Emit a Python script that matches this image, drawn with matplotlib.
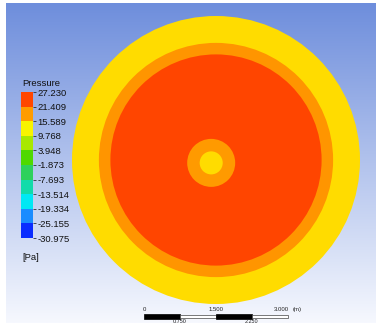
import numpy as np
import matplotlib
matplotlib.use("Agg")
import matplotlib.pyplot as plt
from matplotlib.patches import Circle, Rectangle
from matplotlib.colors import ListedColormap, BoundaryNorm, to_rgb

plt.rcParams['font.family'] = ['Liberation Sans', 'DejaVu Sans']

# legend levels (Pa)
levels = [-30.975, -25.155, -19.334, -13.514, -7.693, -1.873,
          3.948, 9.768, 15.589, 21.409, 27.230]
band_colors = ['#0a2cff', '#1a8cff', '#00e8f4', '#12dbaa', '#2ed15c',
               '#4fd900', '#a8e800', '#f8f400', '#ff9c00', '#ff4600']

# concentric regions (m), outer first
ring_radius = [3.0, 2.44, 2.2]
ring_color = ['#ffdc00', '#ff9500', '#ff4500']
core_center = (-0.1, -0.06)
core_radius = [0.5, 0.24]
core_color = ['#ff9a00', '#ffdc00']

# scale bar (m)
bar_ticks = [0, 0.75, 1.5, 2.25, 3.0]
top_labels = ['0', '1.500', '3.000']
bottom_labels = ['0.750', '2.250']

W, H = 376, 323
fig = plt.figure(figsize=(W / 100, H / 100), dpi=100)

# background gradient
bg = fig.add_axes([6 / W, 0, (W - 6) / W, (H - 3) / H])
top = np.array(to_rgb('#6e8edc'))
bot = np.array(to_rgb('#f6f8fe'))
t = np.linspace(0, 1, 256)[:, None, None]
grad = top * (1 - t) + bot * t
bg.imshow(np.repeat(grad, 2, axis=1), aspect='auto', extent=[0, 1, 0, 1])
bg.axis('off')

# main view, 48 px per metre, centre at pixel (216, 160)
ppm = 48.0
ax = fig.add_axes([0, 0, 1, 1])
ax.set_xlim(-216 / ppm, (W - 216) / ppm)
ax.set_ylim(-(H - 160) / ppm, 160 / ppm)
ax.patch.set_alpha(0)
ax.axis('off')

for r, c in zip(ring_radius, ring_color):
    ax.add_patch(Circle((0, 0), r, facecolor=c, edgecolor='none'))
for r, c in zip(core_radius, core_color):
    ax.add_patch(Circle(core_center, r, facecolor=c, edgecolor='none'))

# scale bar
x0 = -1.5
yb = -3.3125
hb = 0.105
for i in range(len(bar_ticks) - 1):
    a, b = bar_ticks[i], bar_ticks[i + 1]
    if i % 2 == 0:
        ax.add_patch(Rectangle((x0 + a, yb), b - a, hb, facecolor='black',
                               edgecolor='black', lw=0.5))
    else:
        ax.add_patch(Rectangle((x0 + a, yb + 0.02), b - a, hb - 0.04,
                               facecolor='white', edgecolor='#444444', lw=0.5))
ax.text(x0, yb + hb + 0.05, top_labels[0], fontsize=4.3, ha='center',
        va='bottom', color='#222222')
ax.text(x0 + 1.5, yb + hb + 0.05, top_labels[1], fontsize=4.3, ha='center',
        va='bottom', color='#222222')
ax.text(x0 + 3.0 + 0.02, yb + hb + 0.05, top_labels[2], fontsize=4.3,
        ha='right', va='bottom', color='#222222')
ax.text(x0 + 3.0 + 0.1, yb + hb + 0.05, '(m)', fontsize=4.3, ha='left',
        va='bottom', color='#222222')
for v, s in zip([0.75, 2.25], bottom_labels):
    ax.text(x0 + v, -(322.6 - 160) / ppm, s, fontsize=4.0, ha='center',
            va='baseline', color='#222222')

# colour legend
cax = fig.add_axes([21 / W, 1 - 238 / H, 12 / W, 146 / H])
cmap = ListedColormap(band_colors)
norm = BoundaryNorm(levels, cmap.N)
cb = fig.colorbar(plt.cm.ScalarMappable(norm=norm, cmap=cmap), cax=cax,
                  ticks=levels)
cb.outline.set_visible(False)
cb.ax.set_yticklabels(['%.3f' % v for v in levels])
cb.ax.tick_params(length=2, width=0.5, pad=1, labelsize=6.8,
                  colors='#111111')
fig.text(22 / W, 1 - 86 / H, 'Pressure', fontsize=6.8, ha='left',
         va='baseline', color='#111111')
fig.text(22 / W, 1 - 257 / H, '[Pa]', fontsize=6.8, ha='left',
         va='center', color='#111111')

fig.savefig('out.png', dpi=100)
